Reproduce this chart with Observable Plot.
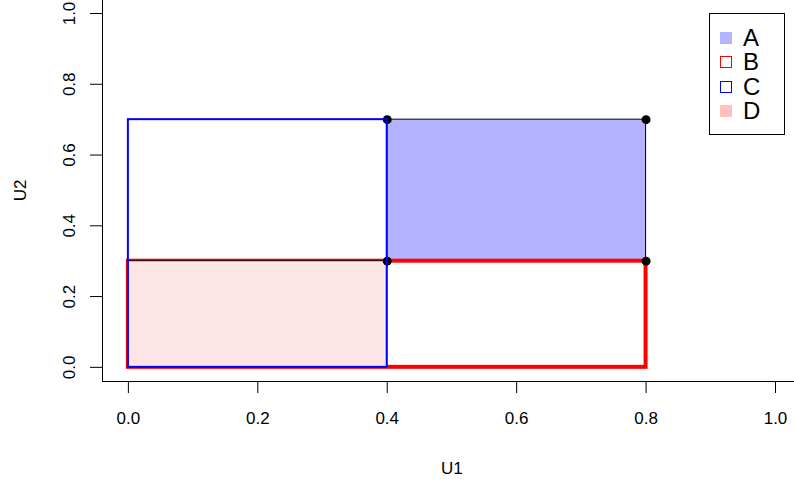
<!DOCTYPE html>
<html>
<head>
<meta charset="utf-8">
<script src="https://cdn.jsdelivr.net/npm/d3@7"></script>
<script src="https://cdn.jsdelivr.net/npm/@observablehq/plot@0.6"></script>
<style>
  body { margin: 0; background: #fff; }
  #chart { position: relative; width: 794px; height: 481px; font-family: "Liberation Sans", Arial, sans-serif; }
  #chart svg { display: block; overflow: hidden; }
  .legend { position: absolute; left: 709px; top: 13px; width: 74px; height: 120px; border: 1px solid #000; background: #fff; }
  .legend .row { position: absolute; left: 0; height: 24px; display: flex; align-items: center; }
  .legend .sw { width: 12px; height: 12px; margin-left: 10px; box-sizing: border-box; flex: none; }
  .legend .lab { display: block; height: 24px; font-size: 24px; line-height: 24px; margin-left: 11px; color: #000; }
</style>
</head>
<body>
<div id="chart"></div>
<script>
// Regions in the unit square (U1, U2)
const regionNames = ["A", "B", "C", "D"];
const regionU1Start = [0.4, 0.0, 0.0, 0.0];
const regionU1End   = [0.8, 0.8, 0.4, 0.4];
const regionU2Start = [0.3, 0.0, 0.0, 0.0];
const regionU2End   = [0.7, 0.3, 0.7, 0.3];

// Corner points of region A
const cornerU1 = [0.4, 0.8, 0.4, 0.8];
const cornerU2 = [0.7, 0.7, 0.3, 0.3];

// Axis ticks
const tickValues = [0, 0.2, 0.4, 0.6, 0.8, 1.0];
const tickLabels = ["0.0", "0.2", "0.4", "0.6", "0.8", "1.0"];

const regions = regionNames.map((name, i) => ({
  name,
  x1: regionU1Start[i], x2: regionU1End[i],
  y1: regionU2Start[i], y2: regionU2End[i]
}));
const corners = cornerU1.map((u1, i) => ({ u1, u2: cornerU2[i] }));
const byName = (n) => regions.filter((d) => d.name === n);

// Drawing style per region
const style = {
  A: { fill: "#b3b3ff", stroke: "#000", strokeWidth: 1 },
  B: { fill: "none", stroke: "#ff0000", strokeWidth: 4 },
  C: { fill: "none", stroke: "#0000ff", strokeWidth: 2 },
  D: { fill: "#fde5e5", stroke: "#000", strokeWidth: 1 }
};
const legendStyle = {
  A: { background: "#b3b3ff", border: "none" },
  B: { background: "none", border: "1.5px solid #ff0000" },
  C: { background: "none", border: "1.5px solid #0000ff" },
  D: { background: "#ffc0c0", border: "none" }
};

const rectMark = (n) => Plot.rect(byName(n), { x1: "x1", x2: "x2", y1: "y1", y2: "y2", ...style[n] });
const fmt = (d) => tickLabels[tickValues.indexOf(d)];
const axisText = { fontSize: 17, fontFamily: "Liberation Sans, Arial, sans-serif" };

const plot = Plot.plot({
  width: 794,
  height: 481,
  marginLeft: 102,
  marginRight: 19,
  marginTop: 13,
  marginBottom: 100,
  style: { fontFamily: "Liberation Sans, Arial, sans-serif", background: "#fff", color: "#000" },
  x: { domain: [-0.04, 1.0] },
  y: { domain: [-0.04, 1.0] },
  marks: [
    // L-shaped frame along the bottom and left of the plot region
    Plot.ruleY([-0.04], { x1: -0.04, x2: 1.04, stroke: "#000", strokeWidth: 1 }),
    Plot.ruleX([-0.04], { y1: -0.04, y2: 1.04, stroke: "#000", strokeWidth: 1 }),
    Plot.axisX(tickValues, { anchor: "bottom", tickSize: 12, tickPadding: 18, tickFormat: fmt, label: null, ...axisText }),
    Plot.axisY(tickValues, { anchor: "left", tickSize: 12, tickPadding: 16, tickRotate: -90, tickFormat: fmt, label: null, ...axisText }),
    Plot.text(["U1"], { x: () => 0.5, frameAnchor: "bottom", lineAnchor: "top", dy: 80, ...axisText }),
    Plot.text(["U2"], { y: () => 0.5, frameAnchor: "left", lineAnchor: "bottom", textAnchor: "middle", dx: -77, rotate: -90, ...axisText }),
    rectMark("A"),
    rectMark("B"),
    rectMark("D"),
    Plot.dot(corners, { x: "u1", y: "u2", r: 4.5, fill: "#000", stroke: "none" }),
    rectMark("C")
  ]
});

const chart = document.getElementById("chart");
chart.appendChild(plot);

// Legend box
const legend = document.createElement("div");
legend.className = "legend";
regionNames.forEach((n, i) => {
  const row = document.createElement("div");
  row.className = "row";
  row.style.top = (12 + i * 24.3) + "px";
  const sw = document.createElement("div");
  sw.className = "sw";
  sw.style.background = legendStyle[n].background;
  sw.style.border = legendStyle[n].border;
  const lab = document.createElement("span");
  lab.className = "lab";
  lab.textContent = n;
  row.appendChild(sw);
  row.appendChild(lab);
  legend.appendChild(row);
});
chart.appendChild(legend);
</script>
</body>
</html>
